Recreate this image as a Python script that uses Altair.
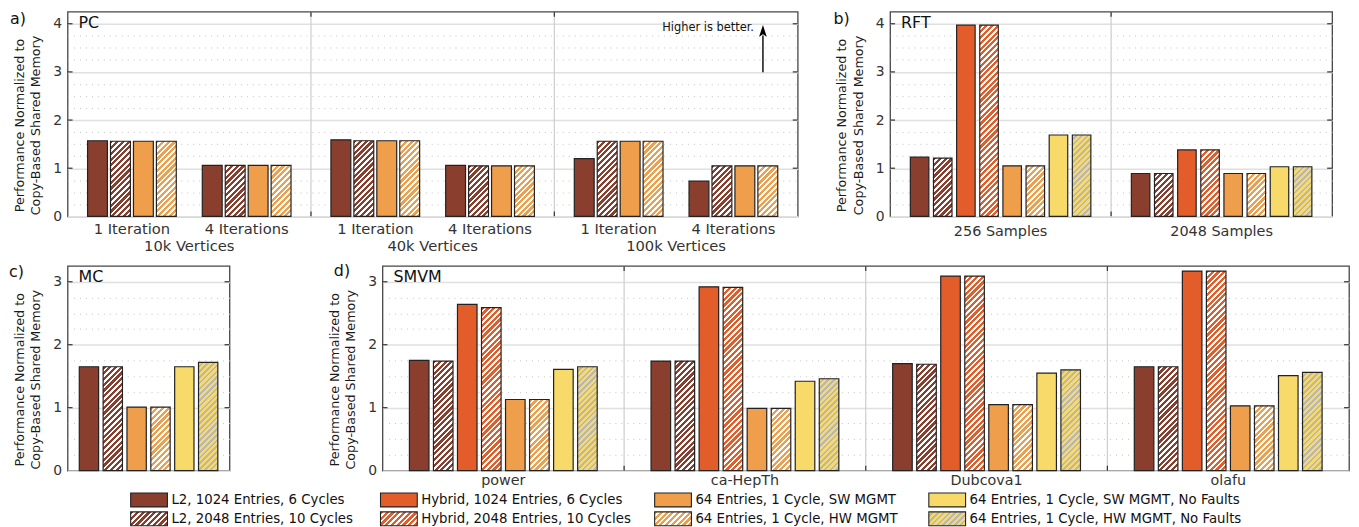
import math
import altair as alt
import pandas as pd

FONT = "DejaVu Sans"

# ------------------------------------------------------------------ data
series_names = [
    "L2, 1024 Entries, 6 Cycles",
    "L2, 2048 Entries, 10 Cycles",
    "Hybrid, 1024 Entries, 6 Cycles",
    "Hybrid, 2048 Entries, 10 Cycles",
    "64 Entries, 1 Cycle, SW MGMT",
    "64 Entries, 1 Cycle, HW MGMT",
    "64 Entries, 1 Cycle, SW MGMT, No Faults",
    "64 Entries, 1 Cycle, HW MGMT, No Faults",
]
series_colors = ["#8a3e2d", "#8a3e2d", "#e35d2b", "#e35d2b",
                 "#ef9e4b", "#ef9e4b", "#f8da6b", "#f8da6b"]
stripe_colors = ["", "#ffffff", "", "#ffffff", "", "#ffffff", "", "#bab7ae"]

pc_groups = ["10k Vertices", "40k Vertices", "100k Vertices"]
pc_clusters = ["1 Iteration", "4 Iterations"]
pc_series = [0, 1, 4, 5]
pc_10k = [[1.57, 1.56, 1.56, 1.56], [1.06, 1.06, 1.06, 1.06]]
pc_40k = [[1.59, 1.57, 1.57, 1.57], [1.06, 1.05, 1.05, 1.05]]
pc_100k = [[1.20, 1.56, 1.56, 1.56], [0.73, 1.05, 1.05, 1.05]]

rft_groups = ["256 Samples", "2048 Samples"]
rft_256 = [1.23, 1.21, 3.97, 3.97, 1.05, 1.05, 1.69, 1.69]
rft_2048 = [0.89, 0.89, 1.38, 1.38, 0.89, 0.89, 1.03, 1.03]

mc_series = [0, 1, 4, 5, 6, 7]
mc_values = [1.65, 1.65, 1.01, 1.01, 1.65, 1.72]

smvm_groups = ["power", "ca-HepTh", "Dubcova1", "olafu"]
smvm_power = [1.75, 1.74, 2.64, 2.59, 1.13, 1.13, 1.61, 1.65]
smvm_cahepth = [1.74, 1.74, 2.92, 2.91, 0.99, 0.99, 1.42, 1.46]
smvm_dubcova1 = [1.70, 1.69, 3.09, 3.09, 1.05, 1.05, 1.55, 1.60]
smvm_olafu = [1.65, 1.65, 3.17, 3.17, 1.03, 1.03, 1.51, 1.56]

y_title = ["Performance Normalized to", "Copy-Based Shared Memory"]

# ------------------------------------------------------------------ layout
H = 206
W_A, W_B, W_C, W_D = 735, 445, 163, 973
YMAX_AB, YMAX_CD = 4.25, 3.25


def hatch(w, h, base, stripe, period=5.8, frac=0.45):
    """Diagonal '/' stripes as a bounding-box linear gradient."""
    r = w / h
    b = (r + 1) / (r * r + 1)
    a = r * b
    total = w + h
    stops = []
    k = 0
    while True:
        t0 = k * period / total
        if t0 >= 1:
            break
        t1 = min((k + 1 - frac) * period / total, 1)
        t2 = min((k + 1) * period / total, 1)
        stops += [(t0, base), (t1, base), (t1, stripe), (t2, stripe)]
        k += 1
    return {"gradient": "linear", "x1": 0, "y1": 0, "x2": round(a, 5), "y2": round(b, 5),
            "stops": [{"offset": round(o, 5), "color": c} for o, c in stops]}


def band_geom(group_w, n_slots, p_in, p_out):
    step = group_w / (n_slots - p_in + 2 * p_out)
    return step, step * (1 - p_in)


def y_axis(ymax):
    is_int = "datum.value % 1 === 0"
    quarters = [k * 0.25 for k in range(int(ymax * 4))]
    return alt.Axis(
        values=quarters, title=y_title, titleFontSize=12.8, titleFontWeight="normal",
        titleColor="#1a1a1a", titleLineHeight=16.5, titlePadding=10, titleY=H / 2 + 11,
        labelExpr=f"{is_int} ? format(datum.value, 'd') : ''", labelOverlap=False,
        labelFontSize=14, labelColor="#333333", labelPadding=6,
        ticks=False, domain=False, grid=True,
        gridColor={"condition": {"test": is_int, "value": "#e0e0e0"}, "value": "#c2c2c2"},
        gridDash={"condition": {"test": is_int, "value": []}, "value": [1, 5]},
        gridWidth={"condition": {"test": is_int, "value": 1.5}, "value": 1},
    )


def panel(rows, groups, slots, width, ymax, p_in, p_out, x_axis, letter, lxy, name, extra=()):
    df = pd.DataFrame(rows)
    step, bw = band_geom(width / len(groups), len(slots), p_in, p_out)
    conds = []
    for r in rows:
        sc = stripe_colors[r["sidx"]]
        if sc:
            h = r["value"] / ymax * H
            conds.append({"test": f"datum.bid === '{r['bid']}'",
                          "value": hatch(bw, h, series_colors[r["sidx"]], sc)})
    xscale = alt.Scale(domain=groups, paddingInner=0, paddingOuter=0)
    yscale = alt.Scale(domain=[0, ymax], nice=False)
    yax = y_axis(ymax)
    X = alt.X("group:N", scale=xscale, axis=x_axis, sort=groups)
    Y = alt.Y("value:Q", scale=yscale, axis=yax)

    bars = alt.Chart(df).mark_bar(stroke="#222222", strokeWidth=1.2).encode(
        x=X,
        xOffset=alt.XOffset("slot:N", scale=alt.Scale(domain=slots, paddingInner=p_in,
                                                      paddingOuter=p_out)),
        y=Y,
        fill=alt.Fill("series:N", scale=alt.Scale(domain=series_names, range=series_colors),
                      legend=None, condition=conds),
    )
    layers = [bars]
    if len(groups) > 1:
        div_df = pd.DataFrame({"group": groups[1:]})
        Xd = alt.X("group:N", scale=xscale, axis=x_axis, sort=groups, bandPosition=0)
        layers.append(alt.Chart(div_df).mark_rule(color="#cdcdcd", strokeWidth=1.2).encode(
            x=Xd, y=alt.value(0), y2=alt.value(H)))
        layers.append(alt.Chart(div_df).mark_rule(color="#333333", strokeWidth=1.2).encode(
            x=Xd, y=alt.value(0), y2=alt.value(5)))
        layers.append(alt.Chart(div_df).mark_rule(color="#333333", strokeWidth=1.2).encode(
            x=Xd, y=alt.value(H - 5), y2=alt.value(H)))
    tick_df = pd.DataFrame({"value": list(range(1, int(ymax) + 1))})
    layers.append(alt.Chart(tick_df).mark_rule(color="#333333", strokeWidth=1.2).encode(
        y=Y, x=alt.value(0), x2=alt.value(5)))
    layers.append(alt.Chart(tick_df).mark_rule(color="#333333", strokeWidth=1.2).encode(
        y=Y, x=alt.value(width - 5), x2=alt.value(width)))
    layers.append(alt.Chart(pd.DataFrame({"t": [letter]})).mark_text(
        align="left", baseline="middle", fontSize=16, color="#111111").encode(
        text="t:N", x=alt.value(lxy[0]), y=alt.value(lxy[1])))
    layers.append(alt.Chart(pd.DataFrame({"t": [name]})).mark_text(
        align="left", baseline="middle", fontSize=16, color="#111111").encode(
        text="t:N", x=alt.value(11), y=alt.value(11.5)))
    layers.extend(extra)
    return alt.layer(*layers).properties(width=width, height=H)


# ---------------- panel a (PC)
pa_slots = ["c0s0", "c0s1", "c0s2", "c0s3", "gap", "c1s0", "c1s1", "c1s2", "c1s3"]
pa_rows = []
for gi, (g, vals) in enumerate(zip(pc_groups, [pc_10k, pc_40k, pc_100k])):
    for ci, cl in enumerate(vals):
        for k, v in enumerate(cl):
            s = pc_series[k]
            pa_rows.append({"group": g, "slot": f"c{ci}s{k}", "series": series_names[s],
                            "sidx": s, "value": v, "bid": f"a-{gi}-{ci}-{k}"})
PA_IN, PA_OUT = 0.134, 0.87
pa_step, _ = band_geom(W_A / 3, 9, PA_IN, PA_OUT)
clab_df = [pd.DataFrame({"group": pc_groups, "t": [pc_clusters[i]] * 3}) for i in range(2)]
pa_xscale = alt.Scale(domain=pc_groups, paddingInner=0, paddingOuter=0)
pa_xaxis = alt.Axis(title=None, ticks=False, domain=False, labelFontSize=14.8,
                    labelPadding=22, labelColor="#333333", labelAngle=0, grid=False)
pa_extra = []
for i, d in enumerate(clab_df):
    pa_extra.append(alt.Chart(d).mark_text(
        baseline="middle", fontSize=14.8, color="#333333",
        dx=(-2.5 if i == 0 else 2.5) * pa_step).encode(
        x=alt.X("group:N", scale=pa_xscale, axis=pa_xaxis, sort=pc_groups),
        y=alt.value(H + 14), text="t:N"))
one = pd.DataFrame({"t": ["Higher is better."]})
pa_extra.append(alt.Chart(one).mark_text(align="right", baseline="middle", fontSize=11.5,
                                         color="#111111").encode(
    text="t:N", x=alt.value(691), y=alt.value(16)))
pa_extra.append(alt.Chart(one).mark_rule(color="#000000", strokeWidth=1.4).encode(
    x=alt.value(700), y=alt.value(24), y2=alt.value(61)))
pa_extra.append(alt.Chart(one).mark_point(
    shape="M0,-1L0.55,0.7L0,0.35L-0.55,0.7Z", size=196, filled=True, color="#000000",
    opacity=1).encode(x=alt.value(700), y=alt.value(20.3)))

pa = panel(pa_rows, pc_groups, pa_slots, W_A, YMAX_AB, PA_IN, PA_OUT, pa_xaxis,
           "a)", (-58, 7.5), "PC", pa_extra)

# ---------------- panel b (RFT)
slots8 = [f"s{i}" for i in range(8)]
pb_rows = []
for gi, (g, vals) in enumerate(zip(rft_groups, [rft_256, rft_2048])):
    for k, v in enumerate(vals):
        pb_rows.append({"group": g, "slot": f"s{k}", "series": series_names[k], "sidx": k,
                        "value": v, "bid": f"b-{gi}-{k}"})
pb_xaxis = alt.Axis(title=None, ticks=False, domain=False, labelFontSize=14.5,
                    labelPadding=8, labelColor="#333333", labelAngle=0, grid=False)
pb = panel(pb_rows, rft_groups, slots8, W_B, YMAX_AB, 0.2, 0.875, pb_xaxis,
           "b)", (-57, 7.5), "RFT")

# ---------------- panel c (MC)
slots6 = [f"s{i}" for i in range(6)]
pc_rows = []
for k, v in enumerate(mc_values):
    s = mc_series[k]
    pc_rows.append({"group": "MC", "slot": f"s{k}", "series": series_names[s], "sidx": s,
                    "value": v, "bid": f"c-{k}"})
pc_xaxis = alt.Axis(title=None, ticks=False, domain=False, labels=False, grid=False)
pcp = panel(pc_rows, ["MC"], slots6, W_C, YMAX_CD, 0.19, 0.49, pc_xaxis,
            "c)", (-59, 6), "MC")

# ---------------- panel d (SMVM)
slots_d = ["pre"] + slots8 + ["post"]
pd_rows = []
for gi, (g, vals) in enumerate(zip(smvm_groups, [smvm_power, smvm_cahepth,
                                                 smvm_dubcova1, smvm_olafu])):
    for k, v in enumerate(vals):
        pd_rows.append({"group": g, "slot": f"s{k}", "series": series_names[k], "sidx": k,
                        "value": v, "bid": f"d-{gi}-{k}"})
pd_xaxis = alt.Axis(title=None, ticks=False, domain=False, labelFontSize=14.4,
                    labelPadding=3, labelColor="#333333", labelAngle=0, grid=False)
pdp = panel(pd_rows, smvm_groups, slots_d, W_D, YMAX_CD, 0.186, 0.12, pd_xaxis,
            "d)", (-49, 5), "SMVM")

# ---------------- legend
leg_df = pd.DataFrame({"series": series_names, "sidx": list(range(8)),
                       "col": [i // 2 for i in range(8)], "row": [i % 2 for i in range(8)]})
leg_conds = [{"test": f"datum.sidx === {i}", "value": hatch(37, 14, series_colors[i], stripe_colors[i])}
             for i in range(8) if stripe_colors[i]]
leg_col_centers = [82, 333.5, 609.5, 885.5]
LX = alt.X("col:Q", scale=alt.Scale(domain=[0, 1, 2, 3], range=leg_col_centers,
                                    nice=False, zero=False), axis=None)
LY = alt.Y("row:O", scale=alt.Scale(domain=[0, 1], paddingInner=0, paddingOuter=0), axis=None)
leg_sw = alt.Chart(leg_df).mark_point(
    shape="M-2.643,-1H2.643V1H-2.643Z", size=196, filled=True, opacity=1,
    stroke="#222222", strokeWidth=1.1).encode(
    x=LX, y=LY,
    fill=alt.Fill("series:N", scale=alt.Scale(domain=series_names, range=series_colors),
                  legend=None, condition=leg_conds))
leg_tx = alt.Chart(leg_df).mark_text(align="left", baseline="middle", dx=22.5,
                                     fontSize=13.4, color="#111111").encode(
    x=LX, y=LY, text="series:N")
legend = alt.layer(leg_sw, leg_tx).properties(
    width=1290, height=38, view=alt.ViewBackground(stroke="transparent"))

row1 = alt.hconcat(pa, pb, spacing=93, bounds="flush").resolve_scale(xOffset="independent")
row2 = alt.hconcat(pcp, pdp, spacing=154, bounds="flush").resolve_scale(xOffset="independent")
lower = alt.vconcat(row2, legend, spacing=1).resolve_scale(xOffset="independent")
chart = alt.vconcat(row1, lower, spacing=8).resolve_scale(xOffset="independent").properties(
    padding=0
).configure(font=FONT).configure_view(
    stroke="#454545", strokeWidth=1.3
).configure_axis(labelFont=FONT, titleFont=FONT).configure_text(font=FONT)

chart.save("out.html", embed_options={"renderer": "svg", "actions": False})
